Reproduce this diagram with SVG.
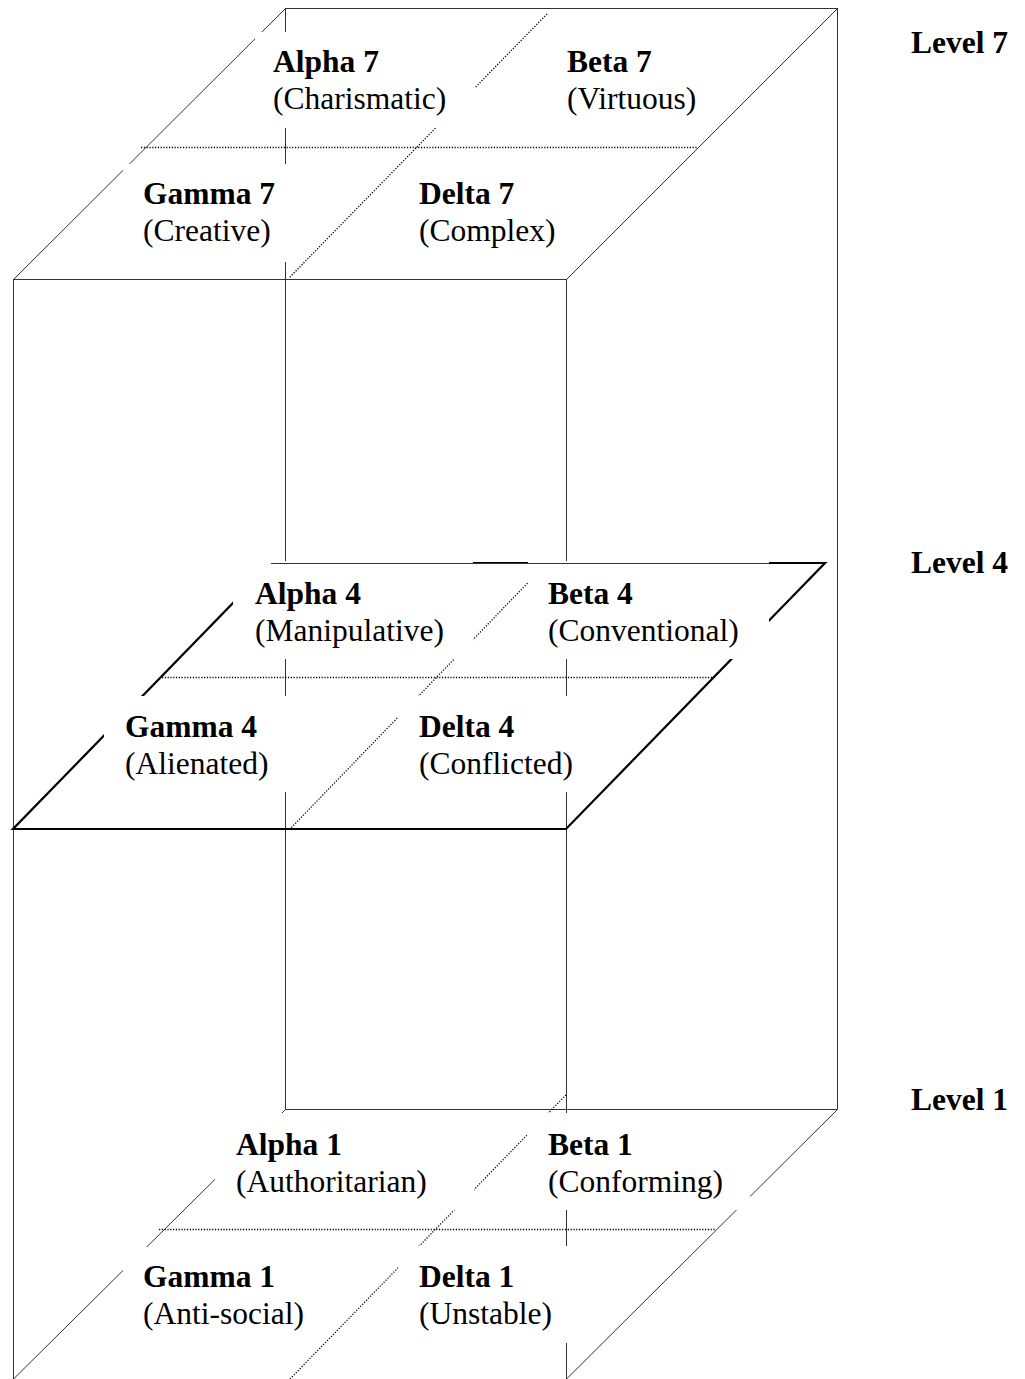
<svg xmlns="http://www.w3.org/2000/svg" width="1025" height="1379" viewBox="0 0 1025 1379">
<style>
.thin{fill:none;stroke:#333;stroke-width:1}
.thick{fill:none;stroke:#000;stroke-width:2.2;stroke-linejoin:miter}
.dot{fill:none;stroke:#000;stroke-width:1.3;stroke-dasharray:1.2 1.6}
.box{fill:#fff;stroke:none}
text{font-family:"Liberation Serif","Times New Roman",serif;font-size:31.5px;fill:#000}
.b{font-weight:bold}
</style>
<rect width="1025" height="1379" fill="#fff"/>
<g id="edges">
<path class="thin" d="M285,8.5H837.5M13.5,279.5L285.5,8.5M566.5,279.5L837.5,8.5M13.5,279.5H566.5M285.5,8V1109M837.5,8V1109M13.5,279V1379M566.5,279V1379M285,1109.5H837.5M285.5,1109.5L13.5,1379M837.5,1109.5L566.5,1379"/>
<polygon class="thick" points="13,829 566,829 825,563 272,563"/>
<path class="dot" d="M141,147.5H697M547,14L289,278M162,677.5H714M547,563L290,829M159,1229.5H715M566,1095L290,1379"/>
</g>
<g id="alpha7"><rect class="box" x="255" y="32" width="220" height="96"/><text x="273" y="72" class="b">Alpha 7</text><text x="273" y="109">(Charismatic)</text></g>
<g id="beta7"><rect class="box" x="550" y="32" width="160" height="96"/><text x="567" y="72" class="b">Beta 7</text><text x="567" y="109">(Virtuous)</text></g>
<g id="gamma7"><rect class="box" x="123" y="164" width="177" height="98"/><text x="143" y="204" class="b">Gamma 7</text><text x="143" y="241">(Creative)</text></g>
<g id="delta7"><rect class="box" x="408" y="164" width="167" height="98"/><text x="419" y="204" class="b">Delta 7</text><text x="419" y="241">(Complex)</text></g>
<g id="alpha4"><rect class="box" x="233" y="561" width="240" height="98"/><text x="255" y="604" class="b">Alpha 4</text><text x="255" y="641">(Manipulative)</text></g>
<g id="beta4"><rect class="box" x="528" y="561" width="241" height="98"/><text x="548" y="604" class="b">Beta 4</text><text x="548" y="641">(Conventional)</text></g>
<g id="gamma4"><rect class="box" x="104" y="696" width="201" height="96"/><text x="125" y="737" class="b">Gamma 4</text><text x="125" y="774">(Alienated)</text></g>
<g id="delta4"><rect class="box" x="398" y="696" width="197" height="96"/><text x="419" y="737" class="b">Delta 4</text><text x="419" y="774">(Conflicted)</text></g>
<g id="alpha1"><rect class="box" x="215" y="1113" width="259" height="97"/><text x="236" y="1155" class="b">Alpha 1</text><text x="236" y="1192">(Authoritarian)</text></g>
<g id="beta1"><rect class="box" x="527" y="1113" width="223" height="97"/><text x="548" y="1155" class="b">Beta 1</text><text x="548" y="1192">(Conforming)</text></g>
<g id="gamma1"><rect class="box" x="123" y="1247" width="177" height="96"/><text x="143" y="1287" class="b">Gamma 1</text><text x="143" y="1324">(Anti-social)</text></g>
<g id="delta1"><rect class="box" x="398" y="1246" width="197" height="97"/><text x="419" y="1287" class="b">Delta 1</text><text x="419" y="1324">(Unstable)</text></g>
<g id="overlay"><path class="thin" d="M271,563.5H769"/></g>
<g id="level7"><text x="911" y="53" class="b">Level 7</text></g>
<g id="level4"><text x="911" y="573" class="b">Level 4</text></g>
<g id="level1"><text x="911" y="1110" class="b">Level 1</text></g>
</svg>
